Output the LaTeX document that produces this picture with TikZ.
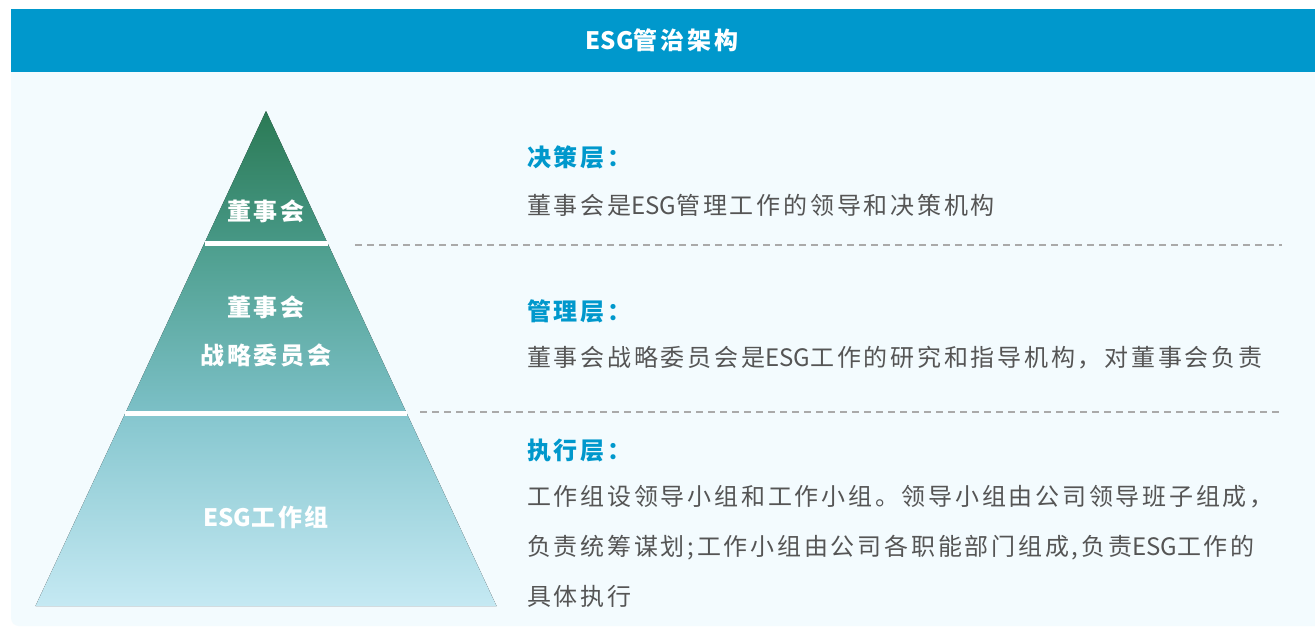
\documentclass[tikz,border=0pt]{standalone}
\usepackage{fontspec}
\setmainfont[LetterSpace=11.5]{Noto Sans CJK SC}
\newfontfamily\latn{Noto Sans CJK SC}
\newcommand{\esg}{{\latn ESG}}
\definecolor{hdr}{HTML}{0098CC}
\definecolor{panel}{HTML}{F3FBFE}
\definecolor{txt}{HTML}{555555}
\definecolor{dashc}{HTML}{AAAAAA}
\definecolor{gA}{HTML}{2B7A55}
\definecolor{gB}{HTML}{479886}
\definecolor{gC}{HTML}{4D9E8D}
\definecolor{gD}{HTML}{7CC0C7}
\definecolor{gE}{HTML}{85C6CE}
\definecolor{gF}{HTML}{C5E9F3}
\tikzset{
  body/.style={anchor=west,inner sep=0pt,text=txt,font=\fontsize{24}{28}\selectfont},
  headtxt/.style={anchor=west,inner sep=0pt,text=hdr,font=\fontsize{24}{28}\selectfont\bfseries},
  pyrtxt/.style={inner sep=0pt,text=white,font=\fontsize{24}{28}\selectfont\bfseries},
  sep/.style={white,line width=5pt},
  dashline/.style={dashc,line width=1.2pt,dash pattern=on 7pt off 5pt},
}
\begin{document}
\begin{tikzpicture}[x=1pt,y=-1pt]
\useasboundingbox (0,0) rectangle (1315,627);
\clip (0,0) rectangle (1315,627);
\fill[white] (0,0) rectangle (1315,627);
% panel
\fill[panel,rounded corners=8pt] (11,60) rectangle (1340,626);
% header
\fill[hdr] (11,9) rectangle (1340,72);
\node[pyrtxt] (title) at (662,40) {\esg 管治架构};
% pyramid
\fill[top color=gA,bottom color=gB] (266,111) -- (327.5,243) -- (204.5,243) -- cycle;
\fill[top color=gC,bottom color=gD] (204.5,243) -- (327.5,243) -- (406.6,413) -- (125.4,413) -- cycle;
\fill[top color=gE,bottom color=gF] (125.4,413) -- (406.6,413) -- (496.5,606) -- (35.5,606) -- cycle;
\draw[sep] (204.5,243) -- (327.5,243);
\draw[sep] (125.4,413) -- (406.6,413);
\node[pyrtxt] (p1) at (266,211) {董事会};
\node[pyrtxt] (p2a) at (266,307) {董事会};
\node[pyrtxt] (p2b) at (266,355) {战略委员会};
\node[pyrtxt] (p3) at (266,517) {\esg 工作组};
% dashed separators
\coordinate (d1a) at (355,245);
\coordinate (d1b) at (1282,245);
\coordinate (d2a) at (420,412);
\coordinate (d2b) at (1282,412);
\draw[dashline] (d1a) -- (d1b);
\draw[dashline] (d2a) -- (d2b);
% texts
\node[headtxt] (h1) at (527,157) {决策层：};
\node[body] (b1) at (527,205) {董事会是\esg 管理工作的领导和决策机构};
\node[headtxt] (h2) at (527,311) {管理层：};
\node[body] (b2) at (527,358) {董事会战略委员会是\esg 工作的研究和指导机构，对董事会负责};
\node[headtxt] (h3) at (527,451) {执行层：};
\node[body] (b3a) at (527,497) {工作组设领导小组和工作小组。领导小组由公司领导班子组成，};
\node[body] (b3b) at (527,548) {负责统筹谋划;工作小组由公司各职能部门组成,负责\esg 工作的};
\node[body] (b3c) at (527,596) {具体执行};
\end{tikzpicture}
\end{document}
